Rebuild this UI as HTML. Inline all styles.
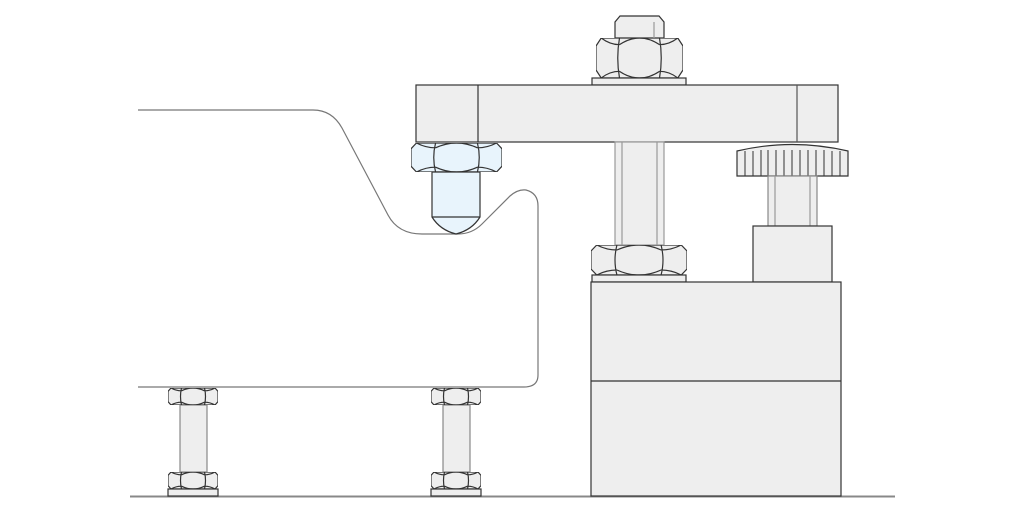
<!DOCTYPE html>
<html><head><style>html,body{margin:0;padding:0;background:#fff;width:1024px;height:512px;overflow:hidden}</style></head>
<body>
<svg width="1024" height="512" viewBox="0 0 1024 512" xmlns="http://www.w3.org/2000/svg">
<defs>
<symbol id="nut" viewBox="0 0 100 30" preserveAspectRatio="none">
<g vector-effect="non-scaling-stroke" stroke="#333" stroke-width="1.2">
<path vector-effect="non-scaling-stroke" d="M6,0 H94 L100,6 V24 L94,30 H6 L0,24 V6 Z"/>
<path vector-effect="non-scaling-stroke" fill="none" d="M27,0 Q23,15 27,30 M73,0 Q77,15 73,30 M27,5 Q50,-5 73,5 M27,25 Q50,35 73,25 M6,0 Q16,5 27,5 M73,5 Q84,5 94,0 M6,30 Q16,25 27,25 M73,25 Q84,25 94,30"/>
</g>
</symbol>
</defs>
<g stroke="#333" stroke-width="1.2" fill="#eee">
<!-- ground -->
<line x1="130" y1="496.5" x2="895" y2="496.5" stroke="#888" stroke-width="2"/>
<!-- workpiece -->
<path d="M138,110 H313 Q332,110 342,128 L388,215 Q398,234 422,234 H458 Q472,234 482,224 L510,196 Q518,189 526,190 Q538,193 538,206 V375 Q538,387 524,387 H138" fill="none" stroke="#777" stroke-width="1.2"/>
<!-- top cap -->
<path d="M615,38 V22 L620,16 H659 L664,22 V38 Z"/>
<line x1="654" y1="22" x2="654" y2="38" stroke="#999"/>
<use href="#nut" x="596" y="38" width="87" height="40" fill="#eee"/>
<rect x="592" y="78" width="94" height="7"/>
<!-- arm -->
<rect x="416" y="85" width="422" height="57"/>
<line x1="478" y1="85" x2="478" y2="142"/>
<line x1="797" y1="85" x2="797" y2="142" stroke="#555"/>
<!-- stud -->
<rect x="615" y="142" width="49" height="103" stroke="#999"/>
<line x1="622" y1="142" x2="622" y2="245" stroke="#999"/>
<line x1="657" y1="142" x2="657" y2="245" stroke="#999"/>
<use href="#nut" x="591" y="245" width="96" height="30" fill="#eee"/>
<rect x="592" y="275" width="94" height="7"/>
<!-- blue pad -->
<use href="#nut" x="411" y="143" width="91" height="29" fill="#e8f4fc"/>
<path d="M432,172 V217 Q440,230 456,234 Q472,230 480,217 V172 Z" fill="#e8f4fc"/>
<line x1="432" y1="217" x2="480" y2="217"/>
<!-- knob -->
<path d="M737,151 Q792,138 848,151 V176 H737 Z"/>
<g stroke-width="1">
<line x1="745" y1="151" x2="745" y2="176"/><line x1="753" y1="151" x2="753" y2="176"/><line x1="761" y1="150" x2="761" y2="176"/><line x1="768" y1="150" x2="768" y2="176"/><line x1="776" y1="150" x2="776" y2="176"/><line x1="784" y1="150" x2="784" y2="176"/><line x1="792" y1="150" x2="792" y2="176"/><line x1="800" y1="150" x2="800" y2="176"/><line x1="808" y1="150" x2="808" y2="176"/><line x1="816" y1="150" x2="816" y2="176"/><line x1="824" y1="150" x2="824" y2="176"/><line x1="832" y1="151" x2="832" y2="176"/><line x1="840" y1="151" x2="840" y2="176"/>
</g>
<rect x="768" y="176" width="49" height="50" stroke="#888"/>
<line x1="775" y1="176" x2="775" y2="226" stroke="#999"/>
<line x1="810" y1="176" x2="810" y2="226" stroke="#999"/>
<rect x="753" y="226" width="79" height="56"/>
<!-- base -->
<rect x="591" y="282" width="250" height="214"/>
<line x1="591" y1="381" x2="841" y2="381"/>
<!-- jacks -->
<rect x="180" y="405" width="27" height="67" stroke="#888"/>
<use href="#nut" x="168" y="388" width="50" height="17" fill="#eee"/>
<use href="#nut" x="168" y="472" width="50" height="17" fill="#eee"/>
<rect x="168" y="489" width="50" height="7"/>
<rect x="443" y="405" width="27" height="67" stroke="#888"/>
<use href="#nut" x="431" y="388" width="50" height="17" fill="#eee"/>
<use href="#nut" x="431" y="472" width="50" height="17" fill="#eee"/>
<rect x="431" y="489" width="50" height="7"/>
</g>
</svg>
</body></html>
